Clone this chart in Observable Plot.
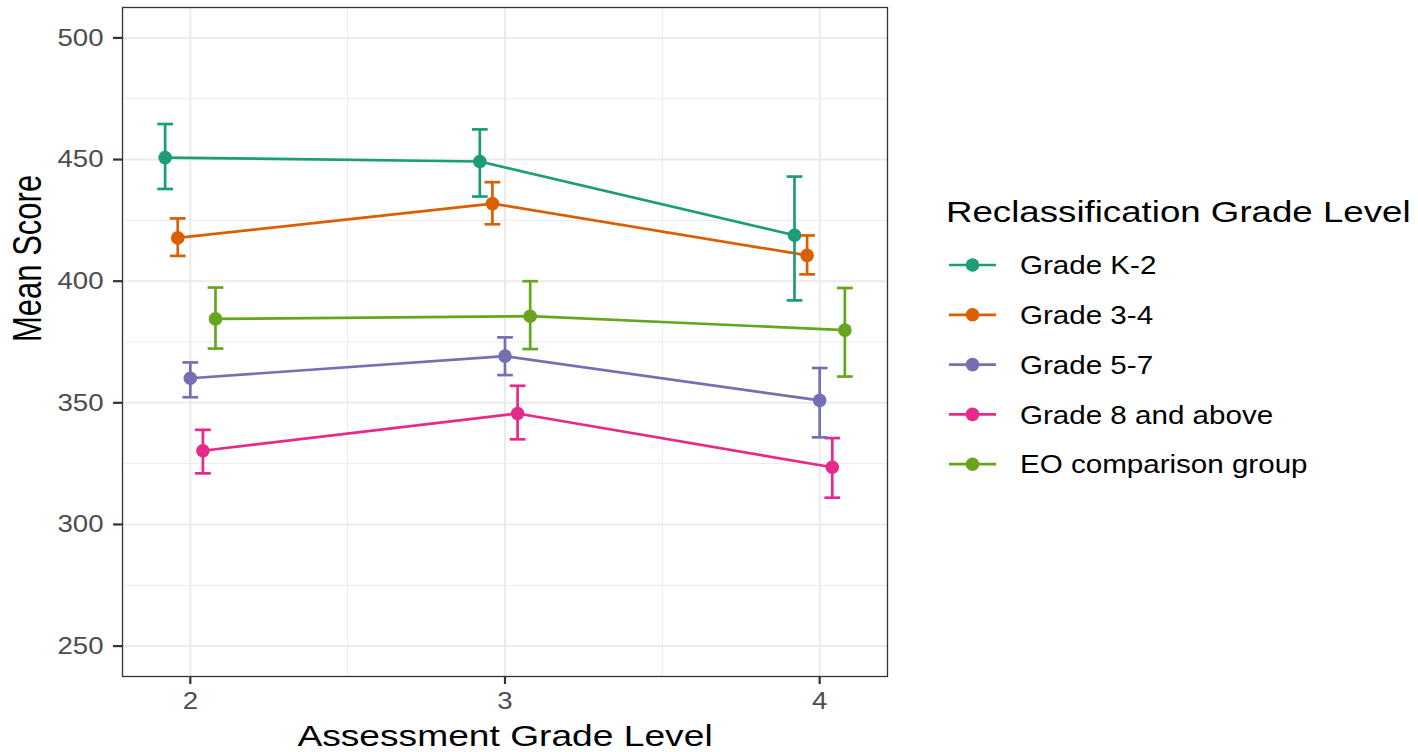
<!DOCTYPE html>
<html>
<head>
<meta charset="utf-8">
<script src="https://cdn.jsdelivr.net/npm/d3@7"></script>
<script src="https://cdn.jsdelivr.net/npm/@observablehq/plot@0.6"></script>
<style>
  body { margin: 0; background: #fff; font-family: "Liberation Sans", Arial, sans-serif; }
  #wrap { position: relative; width: 1418px; height: 752px; }
  #legend { position: absolute; left: 900px; top: 0; }
</style>
</head>
<body>
<div id="wrap">
  <div id="chart"></div>
  <svg id="legend" width="518" height="752"></svg>
</div>
<script>
// assessment grades on the x axis
const grades = [2, 3, 4]
const groups = ["Grade K-2", "Grade 3-4", "Grade 5-7", "Grade 8 and above", "EO comparison group"]
const colors = ["#1B9E77", "#D95F02", "#7570B3", "#E7298A", "#66A61E"]

// one row per group, values for grade 2, 3, 4
const meanScores = [
  [450.8, 449.2, 418.9],
  [417.8, 431.9, 410.6],
  [360.1, 369.2, 351.0],
  [330.3, 345.6, 323.5],
  [384.5, 385.6, 379.9]
]
const lowerCI = [
  [437.9, 434.8, 392.1],
  [410.4, 423.4, 402.8],
  [352.3, 361.4, 335.8],
  [321.0, 335.0, 311.0],
  [372.3, 372.1, 360.8]
]
const upperCI = [
  [464.6, 462.4, 443.0],
  [425.8, 440.7, 418.8],
  [366.6, 376.9, 364.3],
  [338.9, 357.0, 335.5],
  [397.4, 400.0, 397.2]
]

const yTicks = [250, 300, 350, 400, 450, 500]
const yMinor = [275, 325, 375, 425, 475]
const xMinor = [2.5, 3.5]

const dodge = 0.04   // position_dodge step
const capHalf = 0.025
const lw = 2.7

const rows = groups.flatMap((g, i) => grades.map((gr, j) => ({
  group: g,
  x: gr + (i - 2) * dodge,
  mean: meanScores[i][j],
  lo: lowerCI[i][j],
  hi: upperCI[i][j]
})))

const chart = Plot.plot({
  width: 900,
  height: 752,
  marginLeft: 122,
  marginRight: 13,
  marginTop: 7,
  marginBottom: 76,
  style: { fontFamily: "Liberation Sans, Arial, sans-serif", background: "white" },
  x: { domain: [1.7845, 4.2155] },
  y: { domain: [237.5, 512.5] },
  color: { domain: groups, range: colors },
  marks: [
    Plot.ruleY(yMinor, { stroke: "#EBEBEB", strokeWidth: 1 }),
    Plot.ruleX(xMinor, { stroke: "#EBEBEB", strokeWidth: 1 }),
    Plot.ruleY(yTicks, { stroke: "#EBEBEB", strokeWidth: 2 }),
    Plot.ruleX(grades, { stroke: "#EBEBEB", strokeWidth: 2 }),
    Plot.line(rows, { x: "x", y: "mean", z: "group", stroke: "group", strokeWidth: lw }),
    Plot.ruleX(rows, { x: "x", y1: "lo", y2: "hi", stroke: "group", strokeWidth: lw }),
    Plot.link(rows, { x1: d => d.x - capHalf, x2: d => d.x + capHalf, y1: "hi", y2: "hi", stroke: "group", strokeWidth: lw }),
    Plot.link(rows, { x1: d => d.x - capHalf, x2: d => d.x + capHalf, y1: "lo", y2: "lo", stroke: "group", strokeWidth: lw }),
    Plot.dot(rows, { x: "x", y: "mean", fill: "group", r: 6.8 }),
    Plot.frame({ stroke: "#333333", strokeWidth: 1.3 }),
    Plot.axisY({ ticks: yTicks, tickSize: 9, tickPadding: 10, fontSize: 24, label: null, stroke: "#333333" }),
    Plot.axisX({ ticks: grades, tickFormat: d => String(d), tickSize: 8, tickPadding: 7.5, fontSize: 24, label: null, stroke: "#333333" }),
    Plot.text(["Assessment Grade Level"], { text: d => d, frameAnchor: "bottom", lineAnchor: "bottom", dy: 69, fontSize: 29.5, fill: "black" }),
    Plot.text(["Mean Score"], { text: d => d, frameAnchor: "left", dx: -94, rotate: -90, fontSize: 40, fill: "black" })
  ]
})

d3.select("#chart").append(() => chart)

// the source image is a bit wider than tall, so stretch the text the same way
function stretch(sel, k) {
  sel.each(function () {
    const w = this.getComputedTextLength()
    this.setAttribute("textLength", w * k)
    this.setAttribute("lengthAdjust", "spacingAndGlyphs")
  })
}

const svg = d3.select(chart)
svg.selectAll('g[aria-label="y-axis tick label"], g[aria-label="x-axis tick label"]')
  .attr("fill", "#4D4D4D")
svg.selectAll('g[aria-label="y-axis tick label"] text, g[aria-label="x-axis tick label"] text')
  .attr("fill", "#4D4D4D")
svg.selectAll('g[aria-label="y-axis tick"], g[aria-label="x-axis tick"]')
  .attr("stroke-width", 2.2)
stretch(svg.selectAll('g[aria-label="y-axis tick label"] text, g[aria-label="x-axis tick label"] text'), 1.15)
svg.selectAll('g[aria-label="text"] text').each(function () {
  const t = d3.select(this)
  if (t.text() === "Assessment Grade Level") stretch(t, 1.26)
  else stretch(t, 0.775)
})

// legend
const leg = d3.select("#legend")
const ox = 900
const title = leg.append("text")
  .attr("x", 946 - ox).attr("y", 221.7)
  .attr("font-size", 30.3)
  .attr("fill", "black")
  .text("Reclassification Grade Level")
stretch(title, 1.21)

groups.forEach((g, i) => {
  const cy = 265 + i * 49.8
  const row = leg.append("g")
  row.append("line")
    .attr("x1", 949 - ox).attr("x2", 996 - ox)
    .attr("y1", cy).attr("y2", cy)
    .attr("stroke", colors[i]).attr("stroke-width", lw)
  row.append("circle")
    .attr("cx", 972.5 - ox).attr("cy", cy).attr("r", 6.8)
    .attr("fill", colors[i])
  const lab = row.append("text")
    .attr("x", 1020 - ox).attr("y", cy + 9.2)
    .attr("font-size", 25.6)
    .attr("fill", "black")
    .text(g)
  stretch(lab, 1.155)
})
</script>
</body>
</html>
